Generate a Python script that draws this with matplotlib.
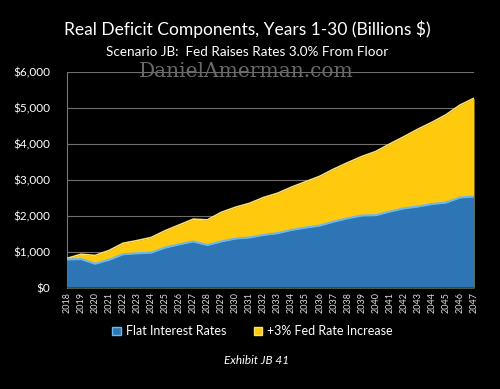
import matplotlib.pyplot as plt
import numpy as np

# values (billions $)
years = list(range(2018, 2048))
flat_rates = [790, 800, 670, 780, 935, 960, 980, 1120, 1210, 1290,
              1190, 1290, 1370, 1400, 1470, 1520, 1610, 1675, 1730, 1840,
              1935, 2010, 2020, 2120, 2210, 2260, 2330, 2370, 2510, 2540]
fed_increase = [30, 135, 230, 260, 305, 355, 420, 470, 540, 620,
                700, 810, 870, 950, 1040, 1110, 1190, 1275, 1370, 1460,
                1545, 1640, 1770, 1880, 1990, 2150, 2270, 2440, 2570, 2730]
yticks = [0, 1000, 2000, 3000, 4000, 5000, 6000]
ytick_labels = ['$0', '$1,000', '$2,000', '$3,000', '$4,000', '$5,000', '$6,000']

plt.rcParams['font.family'] = ['Lato', 'DejaVu Sans']

fig = plt.figure(figsize=(5, 3.89), dpi=100, facecolor='black')
ax = fig.add_axes([0.134, 0.26, 0.814, 0.555], facecolor='black')

x = np.array(years)
flat = np.array(flat_rates)
total = flat + np.array(fed_increase)

ax.fill_between(x, 0, total, color='#ffc90e', lw=0, zorder=2)
ax.plot(x, total, color='#ffe066', lw=1.2, zorder=3)
ax.fill_between(x, 0, flat, color='#2e75b6', lw=0, zorder=4)
ax.plot(x, flat, color='#6ab8ec', lw=1.5, zorder=5)
ax.plot([x[0], x[-1]], [0, 0], color='#1c4f80', lw=1.5, zorder=5)

ax.set_xlim(2018, 2047)
ax.set_ylim(0, 6000)
ax.set_yticks(yticks)
ax.set_yticklabels(ytick_labels)
ax.set_xticks(years)
ax.set_xticklabels([str(y) for y in years], rotation=90)
ax.grid(axis='y', color='#6e6e6e', lw=0.8, zorder=1)
ax.tick_params(axis='y', colors='white', labelsize=8.5, length=0, pad=12)
ax.tick_params(axis='x', colors='#dddddd', labelsize=6.5, length=0, pad=3)
for side in ['top', 'right', 'bottom']:
    ax.spines[side].set_visible(False)
ax.spines['left'].set_color('#777777')

fig.text(0.495, 0.925, 'Real Deficit Components, Years 1-30 (Billions $)',
         color='white', fontsize=12.5, ha='center', va='center')
fig.text(0.495, 0.866, 'Scenario JB:  Fed Raises Rates 3.0% From Floor',
         color='white', fontsize=9.7, ha='center', va='center')
fig.text(0.493, 0.817, 'DanielAmerman.com', color='#6a6a6a', fontsize=14.5,
         family='DejaVu Serif', ha='center', va='center', zorder=10)

handles = [plt.Rectangle((0, 0), 1, 1, fc='#2e75b6', ec='#6ab8ec'),
           plt.Rectangle((0, 0), 1, 1, fc='#ffc90e', ec='#ffe066')]
leg = fig.legend(handles, ['Flat Interest Rates', '+3% Fed Rate Increase'],
                 loc='center', bbox_to_anchor=(0.505, 0.148), ncol=2,
                 frameon=False, fontsize=9, handlelength=0.7, handleheight=0.7,
                 columnspacing=2.2, handletextpad=0.4)
for t in leg.get_texts():
    t.set_color('white')

fig.text(0.514, 0.074, 'Exhibit JB 41', color='white', fontsize=8.5,
         style='italic', ha='center', va='center')

fig.savefig('out.png', dpi=100, facecolor='black')
